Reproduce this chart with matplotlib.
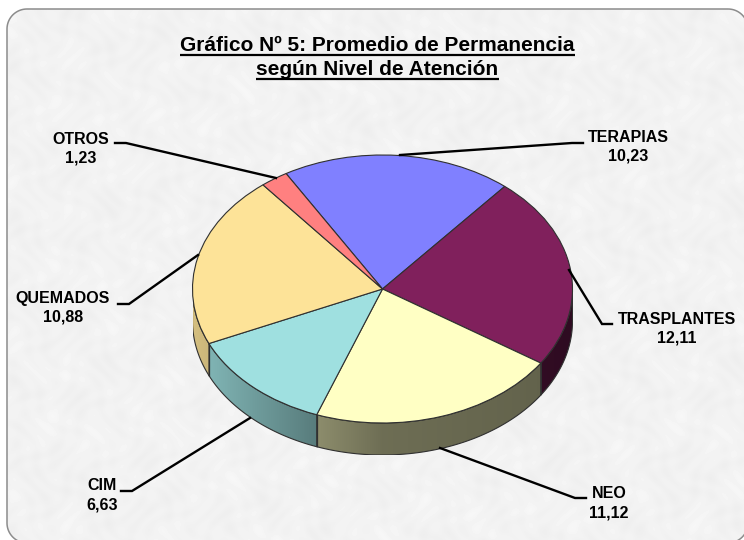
import numpy as np
import matplotlib
matplotlib.use("Agg")
import matplotlib.pyplot as plt
from matplotlib.patches import Polygon

categories = ["TERAPIAS", "TRASPLANTES", "NEO", "CIM", "QUEMADOS", "OTROS"]
values = [10.23, 12.11, 11.12, 6.63, 10.88, 1.23]
colors = ["#8080ff", "#80205c", "#ffffc4", "#9fe0e0", "#fde398", "#ff8080"]
title_lines = ["Gráfico Nº 5: Promedio de Permanencia", "según Nivel de Atención"]

W, H = 744, 540
plt.rcParams["font.family"] = ["Liberation Sans", "DejaVu Sans"]
fig = plt.figure(figsize=(W / 100, H / 100), dpi=100, facecolor="white")

# pixel-space background axes
bg = fig.add_axes([0, 0, 1, 1])
yy, xx = np.mgrid[0:H, 0:W]
tex = (np.sin(xx * 0.23 + 2.1 * np.sin(yy * 0.11)) * np.sin(yy * 0.19 + 1.9 * np.sin(xx * 0.09))
       + 0.8 * np.sin(xx * 0.06 + 1.5 * np.sin(yy * 0.04)) * np.sin(yy * 0.08 - 1.2 * np.sin(xx * 0.05)))
img = bg.imshow(242 + 2.5 * tex, cmap="gray", vmin=0, vmax=255, extent=(0, W, H, 0),
                aspect="auto", interpolation="bilinear", zorder=1)
bg.set_xlim(0, W)
bg.set_ylim(H, 0)
bg.axis("off")

L, T, R, B, r = 7.0, 9.0, 748.0, 543.0, 20.0
outline_pts = []
for (ccx, ccy, a_start) in [(R - r, T + r, -90), (R - r, B - r, 0), (L + r, B - r, 90), (L + r, T + r, 180)]:
    a = np.radians(np.linspace(a_start, a_start + 90, 24))
    outline_pts.append(np.c_[ccx + r * np.cos(a), ccy + r * np.sin(a)])
panel = Polygon(np.vstack(outline_pts), closed=True, fc="none", ec="#8c8c8c", lw=1.1, zorder=2)
bg.add_patch(panel)
img.set_clip_path(panel)

# pie axes: the unit circle is squashed onto the tilted ellipse
cx, cy, rx, ry, depth = 382.5, 289, 190, 134, 32 / 134
ax = fig.add_axes([(cx - rx) / W, 1 - (cy + ry * (1 + depth)) / H,
                   2 * rx / W, ry * (2 + depth) / H], facecolor="none")
start = 120.5
wedges, _ = ax.pie(values, colors=colors, startangle=start, counterclock=False,
                   wedgeprops=dict(edgecolor="#303030", linewidth=0.8, zorder=5))


def shade(x):
    return np.interp(x, [-1, -0.34, 0, 0.8, 1], [0.84, 0.55, 0.43, 0.39, 0.36])


angles = start - np.cumsum([0] + values) / sum(values) * 360
xs = np.linspace(-1, 1, 400)
for a0, a1, c in zip(angles[:-1], angles[1:], colors):
    t = np.radians(np.arange(a1, a0 + 0.5, 0.5))
    t = t[np.sin(t) <= 0.0]
    if len(t) < 2:
        continue
    rgb = np.array(matplotlib.colors.to_rgb(c))
    grad = np.clip(shade(xs)[None, :, None] * rgb[None, None, :], 0, 1)
    x, y = np.cos(t), np.sin(t)
    outline = np.r_[np.c_[x, y], np.c_[x[::-1], y[::-1] - depth]]
    wall = Polygon(outline, fc="none", ec="#303030", lw=0.8, zorder=4)
    ax.add_patch(wall)
    im = ax.imshow(grad, extent=(-1, 1, -1 - depth, 1), aspect="auto", zorder=3, interpolation="bilinear")
    im.set_clip_path(wall)

ax.set_aspect("auto")
ax.set_xlim(-1, 1)
ax.set_ylim(-1 - depth, 1)
ax.axis("off")

# overlay for text and leaders
ov = fig.add_axes([0, 0, 1, 1], facecolor="none")
ov.set_xlim(0, W)
ov.set_ylim(H, 0)
ov.axis("off")

leaders = {
    "OTROS": ([115, 126, 276], [143, 143, 178]),
    "TERAPIAS": ([400, 572, 583], [155, 143, 143]),
    "TRASPLANTES": ([569, 602, 612], [270, 324, 324]),
    "NEO": ([440, 575, 586], [448, 498, 498]),
    "CIM": ([250, 132, 121], [418, 491, 491]),
    "QUEMADOS": ([198, 129, 118], [255, 304, 304]),
}
label_pos = {
    "OTROS": (81, 139), "TERAPIAS": (628, 137), "TRASPLANTES": (677, 319),
    "NEO": (609, 494), "CIM": (102, 486), "QUEMADOS": (63, 298),
}
for name, val in zip(categories, values):
    ov.plot(*leaders[name], color="black", lw=1.7, solid_joinstyle="miter", zorder=6)
    lx, ly = label_pos[name]
    ov.text(lx, ly, name, ha="center", va="center", fontsize=11.5, fontweight="bold", color="black")
    ov.text(lx, ly + 19, f"{val:.2f}".replace(".", ","), ha="center", va="center",
            fontsize=11.5, fontweight="bold", color="black")

fig.canvas.draw()
renderer = fig.canvas.get_renderer()
for line, base_y in zip(title_lines, (51, 75)):
    t = ov.text(377.5, base_y, line, ha="center", va="baseline", fontsize=15,
                fontweight="bold", color="black")
    bb = t.get_window_extent(renderer)
    ov.plot([bb.x0, bb.x1], [base_y + 3.5] * 2, color="black", lw=1.6, solid_capstyle="butt")

fig.savefig("out.png", dpi=100, facecolor="white")
